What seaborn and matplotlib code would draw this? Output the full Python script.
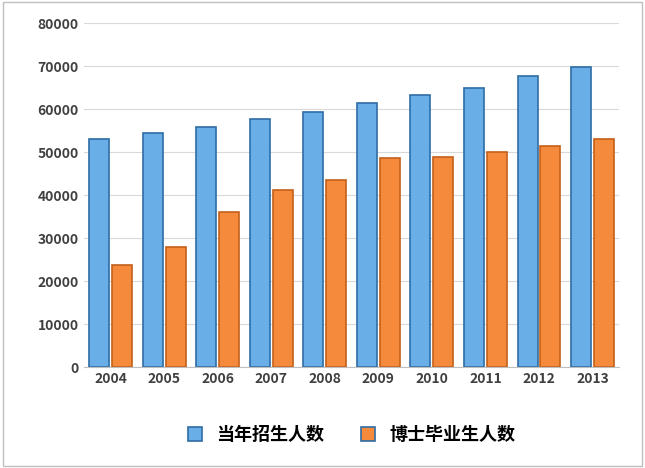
import pandas as pd
import matplotlib.pyplot as plt
import seaborn as sns

years = ["2004", "2005", "2006", "2007", "2008", "2009", "2010", "2011", "2012", "2013"]
enroll = [53000, 54500, 55800, 57800, 59500, 61500, 63300, 65000, 67800, 69800]
grads = [23800, 27900, 36200, 41300, 43600, 48600, 48900, 50100, 51500, 53000]
series = ["当年招生人数", "博士毕业生人数"]

df = pd.DataFrame({
    "year": years * 2,
    "value": enroll + grads,
    "series": [series[0]] * len(years) + [series[1]] * len(years),
})

plt.rcParams["font.family"] = ["Noto Sans CJK SC", "DejaVu Sans"]
fig = plt.figure(figsize=(6.45, 4.68), dpi=100)
ax = fig.add_axes([0.13, 0.215, 0.83, 0.735])
sns.barplot(data=df, x="year", y="value", hue="series", ax=ax,
            palette=["#6aaee8", "#f58a3c"], width=0.85, gap=0.12,
            edgecolor="#2e6da4", linewidth=1.2, saturation=1)
for bar in ax.patches[len(years):2 * len(years)]:
    bar.set_edgecolor("#c4601a")

ax.set_ylim(0, 80000)
ax.set_yticks(range(0, 80001, 10000))
ax.grid(axis="y", color="#d9d9d9", linewidth=0.8)
ax.set_axisbelow(True)
ax.set_xlabel("")
ax.set_ylabel("")
for s in ["top", "right", "left"]:
    ax.spines[s].set_visible(False)
ax.spines["bottom"].set_color("#bfbfbf")
ax.tick_params(length=0, labelsize=10, colors="#404040")
for t in ax.get_xticklabels() + ax.get_yticklabels():
    t.set_fontweight("bold")

ax.legend(loc="upper center", bbox_to_anchor=(0.5, -0.12), ncol=2, frameon=False,
          prop={"size": 13, "weight": "bold"}, handlelength=0.8, handleheight=0.8,
          columnspacing=2.0)
fig.patches.append(plt.Rectangle((0.005, 0.005), 0.99, 0.99, transform=fig.transFigure,
                                 fill=False, edgecolor="#bfbfbf", linewidth=1))
fig.savefig("out.png", dpi=100)
